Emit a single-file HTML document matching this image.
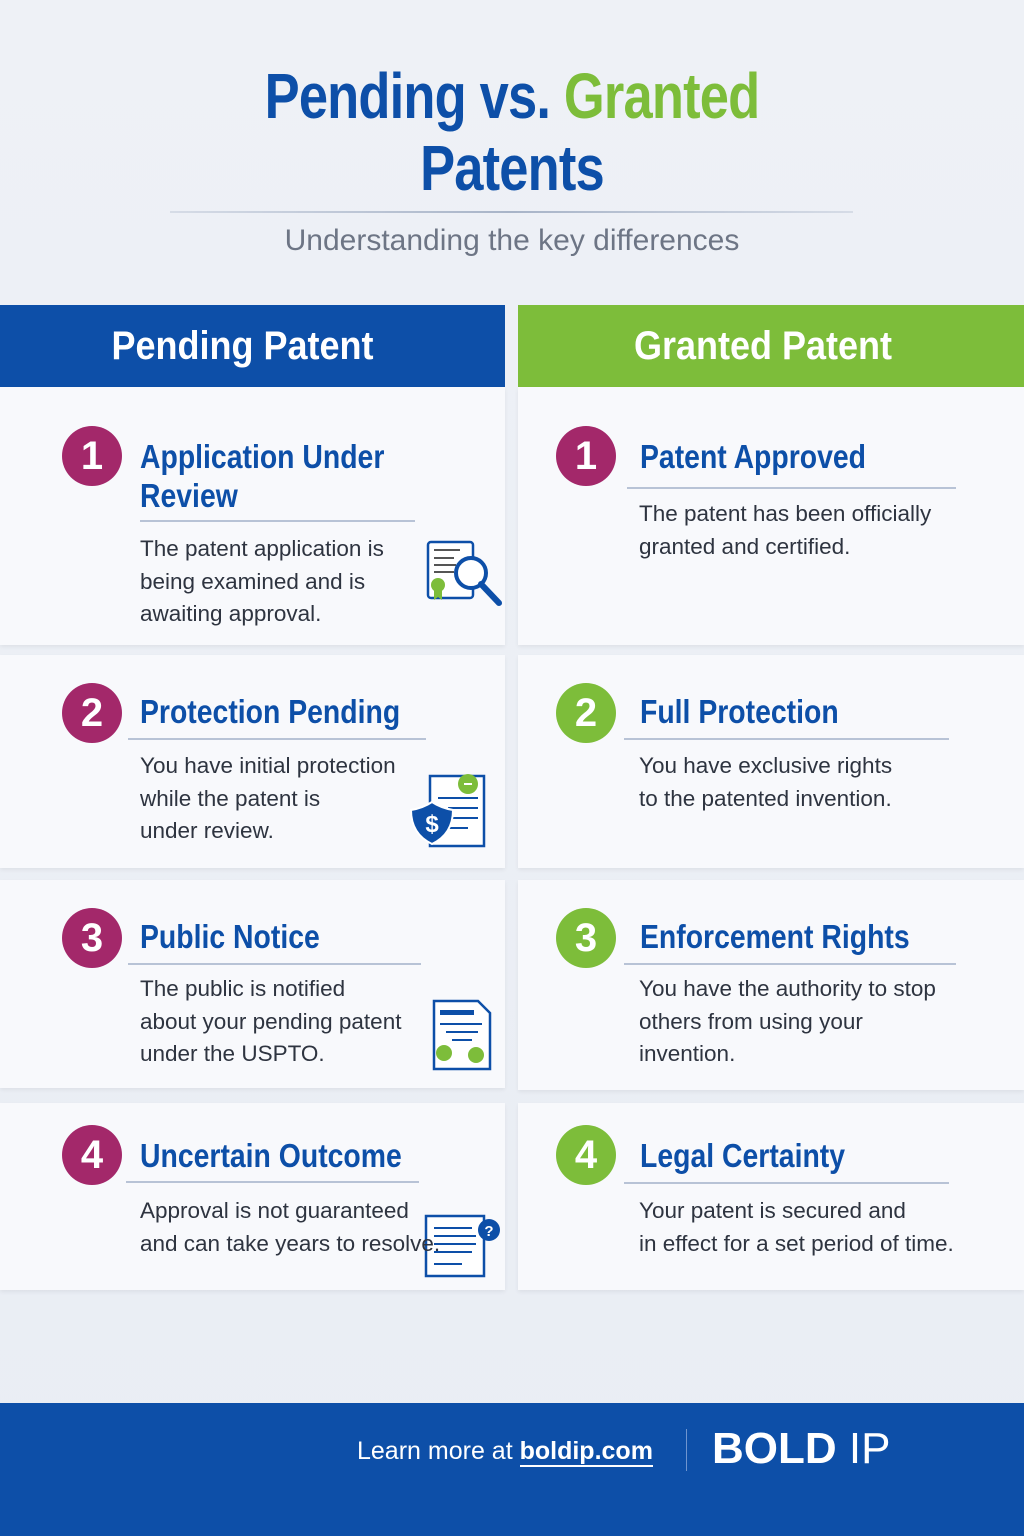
<!DOCTYPE html>
<html><head><meta charset="utf-8"><style>
*{margin:0;padding:0;box-sizing:border-box}
body{width:1024px;height:1536px;position:relative;overflow:hidden;background:linear-gradient(#eef1f6,#e9edf4);font-family:"Liberation Sans",sans-serif}
.a{position:absolute}
.h1{font-weight:bold;font-size:64px;color:#0d4fa8;white-space:nowrap;transform:scaleX(.82);transform-origin:center;left:0;width:1024px;text-align:center;letter-spacing:-1px}
.card{position:absolute;background:#f8f9fc;box-shadow:0 2px 4px rgba(0,0,0,.06)}
.num{position:absolute;width:60px;height:60px;border-radius:50%;color:#fff;font-weight:bold;font-size:40px;text-align:center;line-height:60px}
.m{background:#a3286a}.g{background:#7dbd3a}
.t{position:absolute;font-weight:bold;font-size:33px;color:#0d4fa8;white-space:nowrap;transform:scaleX(.86);transform-origin:left;line-height:39px}
.ln{position:absolute;height:2px;background:#b8c3d6}
.p{position:absolute;z-index:2;font-size:22.5px;color:#2e3440;line-height:32.5px;white-space:nowrap}
</style></head><body>
<div class="a h1" style="top:58px;line-height:76px"><span>Pending vs. </span><span style="color:#7dbd3a">Granted</span></div>
<div class="a h1" style="top:130px;line-height:76px">Patents</div>
<div class="a" style="left:170px;top:211px;width:683px;height:2px;background:linear-gradient(90deg,rgba(160,172,195,.3),#a8b4c8,rgba(160,172,195,.3))"></div>
<div class="a" style="left:0;width:1024px;top:222px;text-align:center;font-size:30px;color:#6d7585;line-height:38px">Understanding the key differences</div>

<div class="a" style="left:0;top:305px;width:505px;height:82px;background:#0d4fa8"></div>
<div class="a" style="left:518px;top:305px;width:506px;height:82px;background:#7dbd3a"></div>
<div class="a" style="left:-10px;width:505px;top:305px;line-height:82px;text-align:center;color:#fff;font-weight:bold;font-size:40px;transform:scaleX(.9)">Pending Patent</div>
<div class="a" style="left:510px;width:506px;top:305px;line-height:82px;text-align:center;color:#fff;font-weight:bold;font-size:40px;transform:scaleX(.9)">Granted Patent</div>

<div class="card" style="left:0;top:387px;width:505px;height:258px"></div>
<div class="card" style="left:518px;top:387px;width:506px;height:258px"></div>
<div class="card" style="left:0;top:655px;width:505px;height:213px"></div>
<div class="card" style="left:518px;top:655px;width:506px;height:213px"></div>
<div class="card" style="left:0;top:880px;width:505px;height:208px"></div>
<div class="card" style="left:518px;top:880px;width:506px;height:210px"></div>
<div class="card" style="left:0;top:1103px;width:505px;height:187px"></div>
<div class="card" style="left:518px;top:1103px;width:506px;height:187px"></div>

<!-- icons -->
<svg class="a" style="left:420px;top:538px" width="84" height="70" viewBox="0 0 84 70">
<rect x="8" y="4" width="45" height="56" rx="3" fill="#fff" stroke="#0d4fa8" stroke-width="2.5"/>
<g stroke="#555" stroke-width="2"><line x1="14" y1="12" x2="40" y2="12"/><line x1="14" y1="20" x2="34" y2="20"/><line x1="14" y1="27" x2="36" y2="27"/><line x1="14" y1="34" x2="34" y2="34"/></g>
<circle cx="51" cy="35" r="15" fill="#fff" stroke="#0d4fa8" stroke-width="4"/>
<line x1="61" y1="46" x2="79" y2="65" stroke="#0d4fa8" stroke-width="6" stroke-linecap="round"/>
<circle cx="18" cy="47" r="7" fill="#7dbd3a"/><path d="M14 52v10l4-3 4 3V52" fill="#7dbd3a"/>
</svg>
<svg class="a" style="left:408px;top:772px" width="80" height="76" viewBox="0 0 80 76">
<rect x="22" y="4" width="54" height="70" fill="#fff" stroke="#0d4fa8" stroke-width="2.5"/>
<g stroke="#0d4fa8" stroke-width="2"><line x1="30" y1="26" x2="70" y2="26"/><line x1="40" y1="36" x2="70" y2="36"/><line x1="40" y1="46" x2="70" y2="46"/><line x1="40" y1="56" x2="60" y2="56"/></g>
<circle cx="60" cy="12" r="10" fill="#7dbd3a"/><line x1="56" y1="12" x2="64" y2="12" stroke="#fff" stroke-width="2"/>
<path d="M3 38 Q15 36 24 30 Q33 36 45 38 Q45 62 24 72 Q3 62 3 38Z" fill="#0d4fa8" stroke="#fff" stroke-width="2"/>
<text x="24" y="60" font-family="Liberation Sans" font-weight="bold" font-size="24" fill="#fff" text-anchor="middle">$</text>
</svg>
<svg class="a" style="left:430px;top:998px" width="64" height="78" viewBox="0 0 64 78">
<path d="M4 3h44l12 12v56H4z" fill="#fff" stroke="#0d4fa8" stroke-width="2.5"/>
<rect x="10" y="12" width="34" height="5" fill="#0d4fa8"/>
<g stroke="#0d4fa8" stroke-width="2"><line x1="10" y1="26" x2="52" y2="26"/><line x1="16" y1="34" x2="48" y2="34"/><line x1="22" y1="42" x2="42" y2="42"/></g>
<circle cx="14" cy="55" r="8" fill="#7dbd3a"/><circle cx="46" cy="57" r="8" fill="#7dbd3a"/>
</svg>
<svg class="a" style="left:422px;top:1214px" width="82" height="66" viewBox="0 0 82 66">
<rect x="4" y="2" width="58" height="60" fill="#fff" stroke="#0d4fa8" stroke-width="2.5"/>
<g stroke="#0d4fa8" stroke-width="2"><line x1="12" y1="14" x2="50" y2="14"/><line x1="12" y1="22" x2="54" y2="22"/><line x1="12" y1="30" x2="54" y2="30"/><line x1="12" y1="38" x2="50" y2="38"/><line x1="12" y1="50" x2="40" y2="50"/></g>
<circle cx="67" cy="16" r="11" fill="#0d4fa8"/>
<text x="67" y="22" font-family="Liberation Sans" font-weight="bold" font-size="15" fill="#fff" text-anchor="middle">?</text>
</svg>

<!-- left -->
<div class="num m" style="left:62px;top:426px">1</div>
<div class="t" style="left:140px;top:437px">Application Under<br>Review</div>
<div class="ln" style="left:140px;top:520px;width:275px"></div>
<div class="p" style="left:140px;top:533px">The patent application is<br>being examined and is<br>awaiting approval.</div>

<div class="num m" style="left:62px;top:683px">2</div>
<div class="t" style="left:140px;top:692px">Protection Pending</div>
<div class="ln" style="left:128px;top:738px;width:298px"></div>
<div class="p" style="left:140px;top:750px">You have initial protection<br>while the patent is<br>under review.</div>

<div class="num m" style="left:62px;top:908px">3</div>
<div class="t" style="left:140px;top:917px">Public Notice</div>
<div class="ln" style="left:128px;top:963px;width:293px"></div>
<div class="p" style="left:140px;top:973px">The public is notified<br>about your pending patent<br>under the USPTO.</div>

<div class="num m" style="left:62px;top:1125px">4</div>
<div class="t" style="left:140px;top:1136px">Uncertain Outcome</div>
<div class="ln" style="left:126px;top:1181px;width:293px"></div>
<div class="p" style="left:140px;top:1195px">Approval is not guaranteed<br>and can take years to resolve.</div>

<!-- right -->
<div class="num m" style="left:556px;top:426px">1</div>
<div class="t" style="left:640px;top:437px">Patent Approved</div>
<div class="ln" style="left:627px;top:487px;width:329px"></div>
<div class="p" style="left:639px;top:498px">The patent has been officially<br>granted and certified.</div>

<div class="num g" style="left:556px;top:683px">2</div>
<div class="t" style="left:640px;top:692px">Full Protection</div>
<div class="ln" style="left:624px;top:738px;width:325px"></div>
<div class="p" style="left:639px;top:750px">You have exclusive rights<br>to the patented invention.</div>

<div class="num g" style="left:556px;top:908px">3</div>
<div class="t" style="left:640px;top:917px">Enforcement Rights</div>
<div class="ln" style="left:624px;top:963px;width:332px"></div>
<div class="p" style="left:639px;top:973px">You have the authority to stop<br>others from using your<br>invention.</div>

<div class="num g" style="left:556px;top:1125px">4</div>
<div class="t" style="left:640px;top:1136px">Legal Certainty</div>
<div class="ln" style="left:624px;top:1182px;width:325px"></div>
<div class="p" style="left:639px;top:1195px">Your patent is secured and<br>in effect for a set period of time.</div>

<!-- footer -->
<div class="a" style="left:0;top:1403px;width:1024px;height:133px;background:#0d4fa8"></div>
<div class="a" style="left:357px;top:1434px;font-size:25px;color:#fff;line-height:34px;white-space:nowrap">Learn more at <b style="border-bottom:2px solid #fff">boldip.com</b></div>
<div class="a" style="left:686px;top:1429px;width:1px;height:42px;background:#6f95cf"></div>
<div class="a" style="left:712px;top:1424px;font-size:44px;color:#fff;line-height:50px;white-space:nowrap"><b>BOLD</b> <span style="font-weight:normal">IP</span></div>
</body></html>
